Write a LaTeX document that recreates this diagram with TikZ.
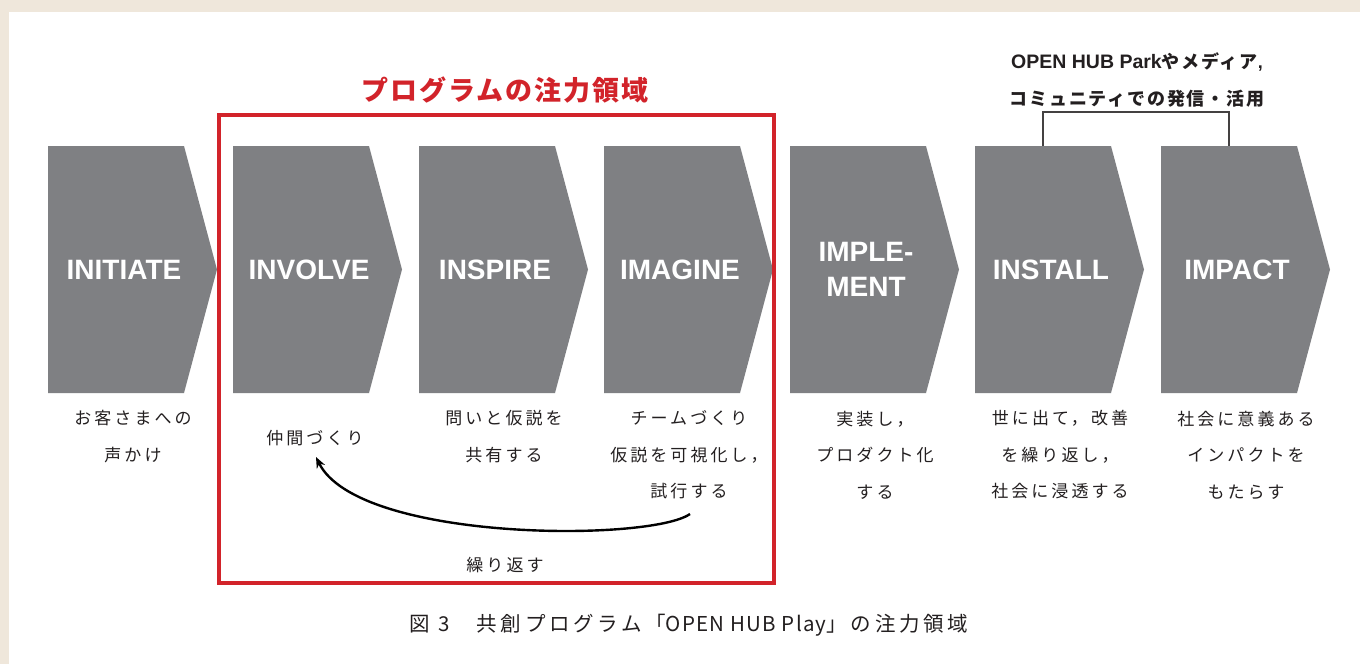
\documentclass[tikz,border=0pt]{standalone}
\usepackage{fontspec}
\setmainfont{Liberation Sans}
\newfontfamily\jp[LetterSpace=18]{Noto Sans CJK JP}
\newfontfamily\jpt[LetterSpace=7]{Noto Sans CJK JP}
\newfontfamily\jpm[LetterSpace=10]{Noto Sans CJK JP}
\newfontfamily\lat{Liberation Sans}
\newfontfamily\latc[LetterSpace=6]{Noto Sans CJK JP}
\usetikzlibrary{arrows.meta}
\definecolor{beige}{HTML}{EFE7DB}
\definecolor{chev}{HTML}{7F8083}
\definecolor{focusred}{HTML}{D2232A}
\definecolor{ink}{HTML}{231F20}
\tikzset{
  chevron/.style={fill=chev},
  steptext/.style={text=white, font=\bfseries\fontsize{28}{35}\selectfont, align=center},
  desc/.style={text=ink, font=\jp\fontsize{17}{36.5}\selectfont, align=center, inner sep=0pt},
  topnote/.style={text=ink, font=\jpm\bfseries\fontsize{18}{37}\selectfont, align=center, inner sep=0pt},
  bracket/.style={draw=ink!85, line width=1.4pt},
  focusbox/.style={draw=focusred, line width=3.5pt, inner sep=0pt},
  loop/.style={draw=black, line width=2.4pt, -{Stealth[length=11pt,width=9pt]}},
}
\begin{document}
\begin{tikzpicture}[x=1pt,y=-1pt]
\useasboundingbox (0,0) rectangle (1360,664);
\fill[beige] (0,0) rectangle (1360,664);
\fill[white] (9,12) rectangle (1360,664);
\foreach \x/\n in {48/a1,233/a2,419/a3,604/a4,790/a5,975/a6,1161/a7}{
  \fill[chevron] (\x,146) -- (\x+136,146) -- (\x+169,269.5) -- (\x+136,393) -- (\x,393) -- cycle;
  \coordinate (\n) at (\x+76,269.5);
  \coordinate (\n d) at (\x+85,455);
}
\node[steptext] (s1) at (a1) {INITIATE};
\node[steptext] (s2) at (a2) {INVOLVE};
\node[steptext] (s3) at (a3) {INSPIRE};
\node[steptext] (s4) at (a4) {IMAGINE};
\node[steptext] (s5) at (a5) {IMPLE-\\MENT};
\node[steptext] (s6) at (a6) {INSTALL};
\node[steptext] (s7) at (a7) {IMPACT};
% focus area
\node[focusbox, minimum width=555pt, minimum height=468pt] (focus) at (496.5,349) {};
\node[text=focusred, font=\jpt\bfseries\fontsize{27}{30}\selectfont, inner sep=0pt] (ftitle) at (505,90) {プログラムの注力領域};
% descriptions
\node[desc] (d1) at ([yshift=18.25pt]a1d) {お客さまへの\\声かけ};
\node[desc] (d2) at (315,438) {仲間づくり};
\node[desc] (d3) at ([yshift=18.25pt]a3d) {問いと仮説を\\共有する};
\node[desc] (d4) at (a4d) {チームづくり\\仮説を可視化し，\\試行する};
\node[desc] (d5) at (a5d) {実装し，\\プロダクト化\\する};
\node[desc] (d6) at (a6d) {世に出て，改善\\を繰り返し，\\社会に浸透する};
\node[desc] (d7) at (a7d) {社会に意義ある\\インパクトを\\もたらす};
% repeat loop
\coordinate (lstart) at (690,514);
\coordinate (lend) at (316,457);
\draw[loop] (lstart) .. controls (650,542) and (358,542) .. (lend);
\node[desc] (rep) at (505,565) {繰り返す};
% bracket at top right
\node[topnote] (note) at (1137,80) {{\lat\bfseries\fontsize{19.5}{37}\selectfont OPEN HUB Park}やメディア{\lat\bfseries ,}\\コミュニティでの発信・活用};
\coordinate (b6) at (1043,146);
\coordinate (b7) at (1229,146);
\coordinate (bt) at (1136,112);
\draw[bracket] (b6) |- (bt) -| (b7);
% caption
\node[text=ink, font=\jp\fontsize{20.5}{22}\selectfont, inner sep=0pt] (cap) at (689,625) {図 3\hspace{1.3em}共創プログラム「{\latc OPEN HUB Play}」の注力領域};
\end{tikzpicture}
\end{document}
